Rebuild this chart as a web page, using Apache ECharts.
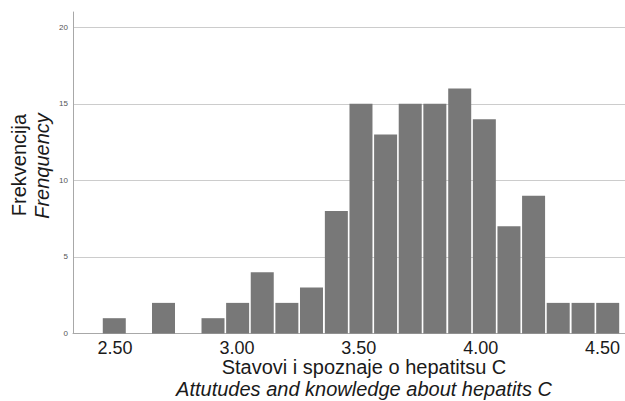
<!DOCTYPE html>
<html>
<head>
<meta charset="utf-8">
<script src="https://cdn.jsdelivr.net/npm/echarts@6/dist/echarts.min.js"></script>
<style>
html,body{margin:0;padding:0;background:#fff;}
#chart{width:625px;height:401px;}
</style>
</head>
<body>
<div id="chart"></div>
<script>
// Histogram bin centres (score) and frequencies
const binCenters = [2.497, 2.598, 2.699, 2.800, 2.902, 3.003, 3.104, 3.205, 3.306, 3.408, 3.509, 3.610, 3.711, 3.812, 3.914, 4.015, 4.116, 4.217, 4.318, 4.420, 4.521];
const counts     = [1, 0, 2, 0, 1, 2, 4, 2, 3, 8, 15, 13, 15, 15, 16, 14, 7, 9, 2, 2, 2];
const xTickValues = [2.5, 3.0, 3.5, 4.0, 4.5];
const yTitle = ['Frekvencija', 'Frenquency'];
const xTitle = ['Stavovi i spoznaje o hepatitsu C', 'Attutudes and knowledge about hepatits C'];

const FONT = '"Liberation Sans", Arial, sans-serif';
const chart = echarts.init(document.getElementById('chart'), null, {renderer: 'svg'});
chart.setOption({
  backgroundColor: '#ffffff',
  animation: false,
  textStyle: {fontFamily: FONT},
  grid: {left: 73, right: 0, top: 12, bottom: 67.5, containLabel: false},
  xAxis: {
    type: 'value',
    min: 2.3277,
    max: 4.592,
    axisLine: {show: true, lineStyle: {color: '#a8a8a8', width: 1}},
    axisTick: {show: false},
    splitLine: {show: false},
    axisLabel: {
      customValues: xTickValues,
      formatter: v => v.toFixed(2),
      fontSize: 18,
      color: '#1a1a1a',
      fontFamily: FONT,
      margin: 5
    }
  },
  yAxis: {
    type: 'value',
    min: 0,
    max: 21,
    interval: 5,
    axisLine: {show: true, lineStyle: {color: '#a8a8a8', width: 1}},
    axisTick: {show: false},
    splitLine: {show: true, showMaxLine: false, lineStyle: {color: '#cccccc', width: 1}},
    axisLabel: {showMaxLabel: false, fontSize: 8, color: '#555555', margin: 5, fontFamily: FONT}
  },
  series: [{
    type: 'bar',
    data: binCenters.map((c, i) => [c, counts[i]]),
    barWidth: 23,
    itemStyle: {color: '#787878'},
    silent: true
  }],
  graphic: [
    {type: 'text', x: 19, y: 165, rotation: Math.PI / 2,
      style: {text: yTitle[0], font: '20px ' + FONT, fill: '#1a1a1a', align: 'center', verticalAlign: 'middle'}},
    {type: 'text', x: 42, y: 166, rotation: Math.PI / 2,
      style: {text: yTitle[1], font: 'italic 20px ' + FONT, fill: '#1a1a1a', align: 'center', verticalAlign: 'middle'}},
    {type: 'text', x: 364, y: 367,
      style: {text: xTitle[0], font: '20px ' + FONT, fill: '#1a1a1a', align: 'center', verticalAlign: 'middle'}},
    {type: 'text', x: 364, y: 389,
      style: {text: xTitle[1], font: 'italic 20px ' + FONT, fill: '#1a1a1a', align: 'center', verticalAlign: 'middle'}}
  ]
});
</script>
</body>
</html>
